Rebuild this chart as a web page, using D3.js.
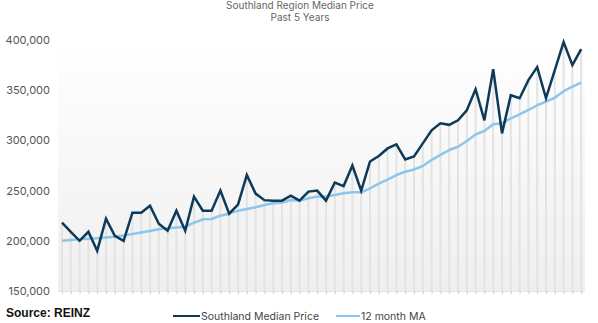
<!DOCTYPE html>
<html><head><meta charset="utf-8">
<script src="https://cdn.jsdelivr.net/npm/d3@7"></script>
<style>html,body{margin:0;padding:0;background:#fff;}svg{display:block;}</style>
</head><body>
<svg id="chart" width="598" height="323"></svg>
<script>
const title = ["Southland Region Median Price", "Past 5 Years"];
const seriesNames = ["Southland Median Price", "12 month MA"];
const yTicks = [150000, 200000, 250000, 300000, 350000, 400000];
const medianPrice = [
 218000, 209000, 200000, 209000, 190000, 222000, 205000, 200000, 228000, 228000,
 235000, 217000, 210000, 230000, 210000, 244000, 230000, 230000, 250000, 227000,
 236000, 265500, 247000, 240500, 240000, 240000, 245000, 240000, 249000, 250000,
 240000, 258000, 254500, 275000, 250000, 279000, 284500, 292000, 296000, 281000,
 284000, 297000, 310000, 317000, 315500, 320000, 330000, 351000, 320000, 371000,
 307000, 345000, 342000, 360000, 373000, 342000, 370000, 398000, 375000, 391000
];
const movingAvg = [
 200000, 200800, 201500, 202000, 202500, 203200, 204000, 205200, 206800, 208200,
 209800, 211500, 212500, 213300, 214000, 218000, 221400, 221700, 225000, 227000,
 230000, 231700, 233400, 235700, 237300, 238000, 240600, 240000, 242300, 244000,
 244000, 245600, 247300, 248300, 248300, 252300, 257000, 261000, 265500, 268800,
 271000, 274500, 280500, 285500, 290400, 293700, 299400, 306000, 309400, 316000,
 317000, 322000, 326000, 330300, 335000, 338700, 342500, 349000, 353500, 357500
];
const categories = d3.range(medianPrice.length);

const svg = d3.select("#chart");
const font = "Inter, 'DejaVu Sans', sans-serif";

const x = d3.scalePoint().domain(categories).range([62, 581.2]);
const y = d3.scaleLinear().domain([150000, 400000]).range([291, 40]);

// background gradient
const defs = svg.append("defs");
const grad = defs.append("linearGradient").attr("id", "bg").attr("x1", 0).attr("y1", 0).attr("x2", 0).attr("y2", 1);
grad.append("stop").attr("offset", "0%").attr("stop-color", "#ffffff");
grad.append("stop").attr("offset", "100%").attr("stop-color", "#efefef");
svg.append("rect").attr("x", 58).attr("y", 40).attr("width", 527).attr("height", 251).attr("fill", "url(#bg)");

// title
svg.append("text").attr("x", 300).attr("y", 9).attr("text-anchor", "middle")
  .attr("font-family", font).attr("font-size", 10).attr("fill", "#666").text(title[0]);
svg.append("text").attr("x", 300).attr("y", 20.5).attr("text-anchor", "middle")
  .attr("font-family", font).attr("font-size", 10).attr("fill", "#666").text(title[1]);

// drop bars
svg.append("g").selectAll("rect").data(medianPrice).join("rect")
  .attr("x", (d, i) => x(categories[i]) - 1)
  .attr("width", 2)
  .attr("y", d => y(d))
  .attr("height", d => y(150000) - y(d))
  .attr("fill", "#e3e3e3");

// x axis ticks
const xAxis = d3.axisBottom(x).tickSize(3).tickFormat("");
const gx = svg.append("g").attr("transform", `translate(0,${y(150000)})`).call(xAxis);
gx.select(".domain").attr("stroke", "#e6e6e6").attr("d", `M58,0.5H585`);
gx.selectAll(".tick line").attr("stroke", "#cfcfcf");

// y axis labels
const yAxis = d3.axisLeft(y).tickValues(yTicks).tickSize(0).tickPadding(0)
  .tickFormat(d3.format(","));
const gy = svg.append("g").attr("transform", "translate(50,0)").call(yAxis);
gy.select(".domain").remove();
gy.selectAll("text").attr("font-family", font).attr("font-size", 11).attr("fill", "#555");

// lines
const line = d3.line().x((d, i) => x(categories[i])).y(d => y(d));
svg.append("path").datum(movingAvg).attr("d", line).attr("fill", "none")
  .attr("stroke", "#8ec5ea").attr("stroke-width", 2.5).attr("stroke-linejoin", "round");
svg.append("path").datum(medianPrice).attr("d", line).attr("fill", "none")
  .attr("stroke", "#0d3a58").attr("stroke-width", 2.5).attr("stroke-linejoin", "miter");

// legend
const legend = [
  {name: seriesNames[0], color: "#0d3a58", x1: 173, x2: 200},
  {name: seriesNames[1], color: "#8ec5ea", x1: 336, x2: 360}
];
const lg = svg.append("g");
legend.forEach(l => {
  lg.append("line").attr("x1", l.x1).attr("x2", l.x2).attr("y1", 316).attr("y2", 316)
    .attr("stroke", l.color).attr("stroke-width", 2);
  lg.append("text").attr("x", l.x2 + 1).attr("y", 320).attr("font-family", font)
    .attr("font-size", 10.5).attr("fill", "#444").text(l.name);
});

// source
svg.append("text").attr("x", 6).attr("y", 317).attr("font-family", "'Liberation Sans', Arial, sans-serif")
  .attr("font-weight", "bold").attr("font-size", 12).attr("fill", "#111").text("Source: REINZ");
</script>
</body></html>
